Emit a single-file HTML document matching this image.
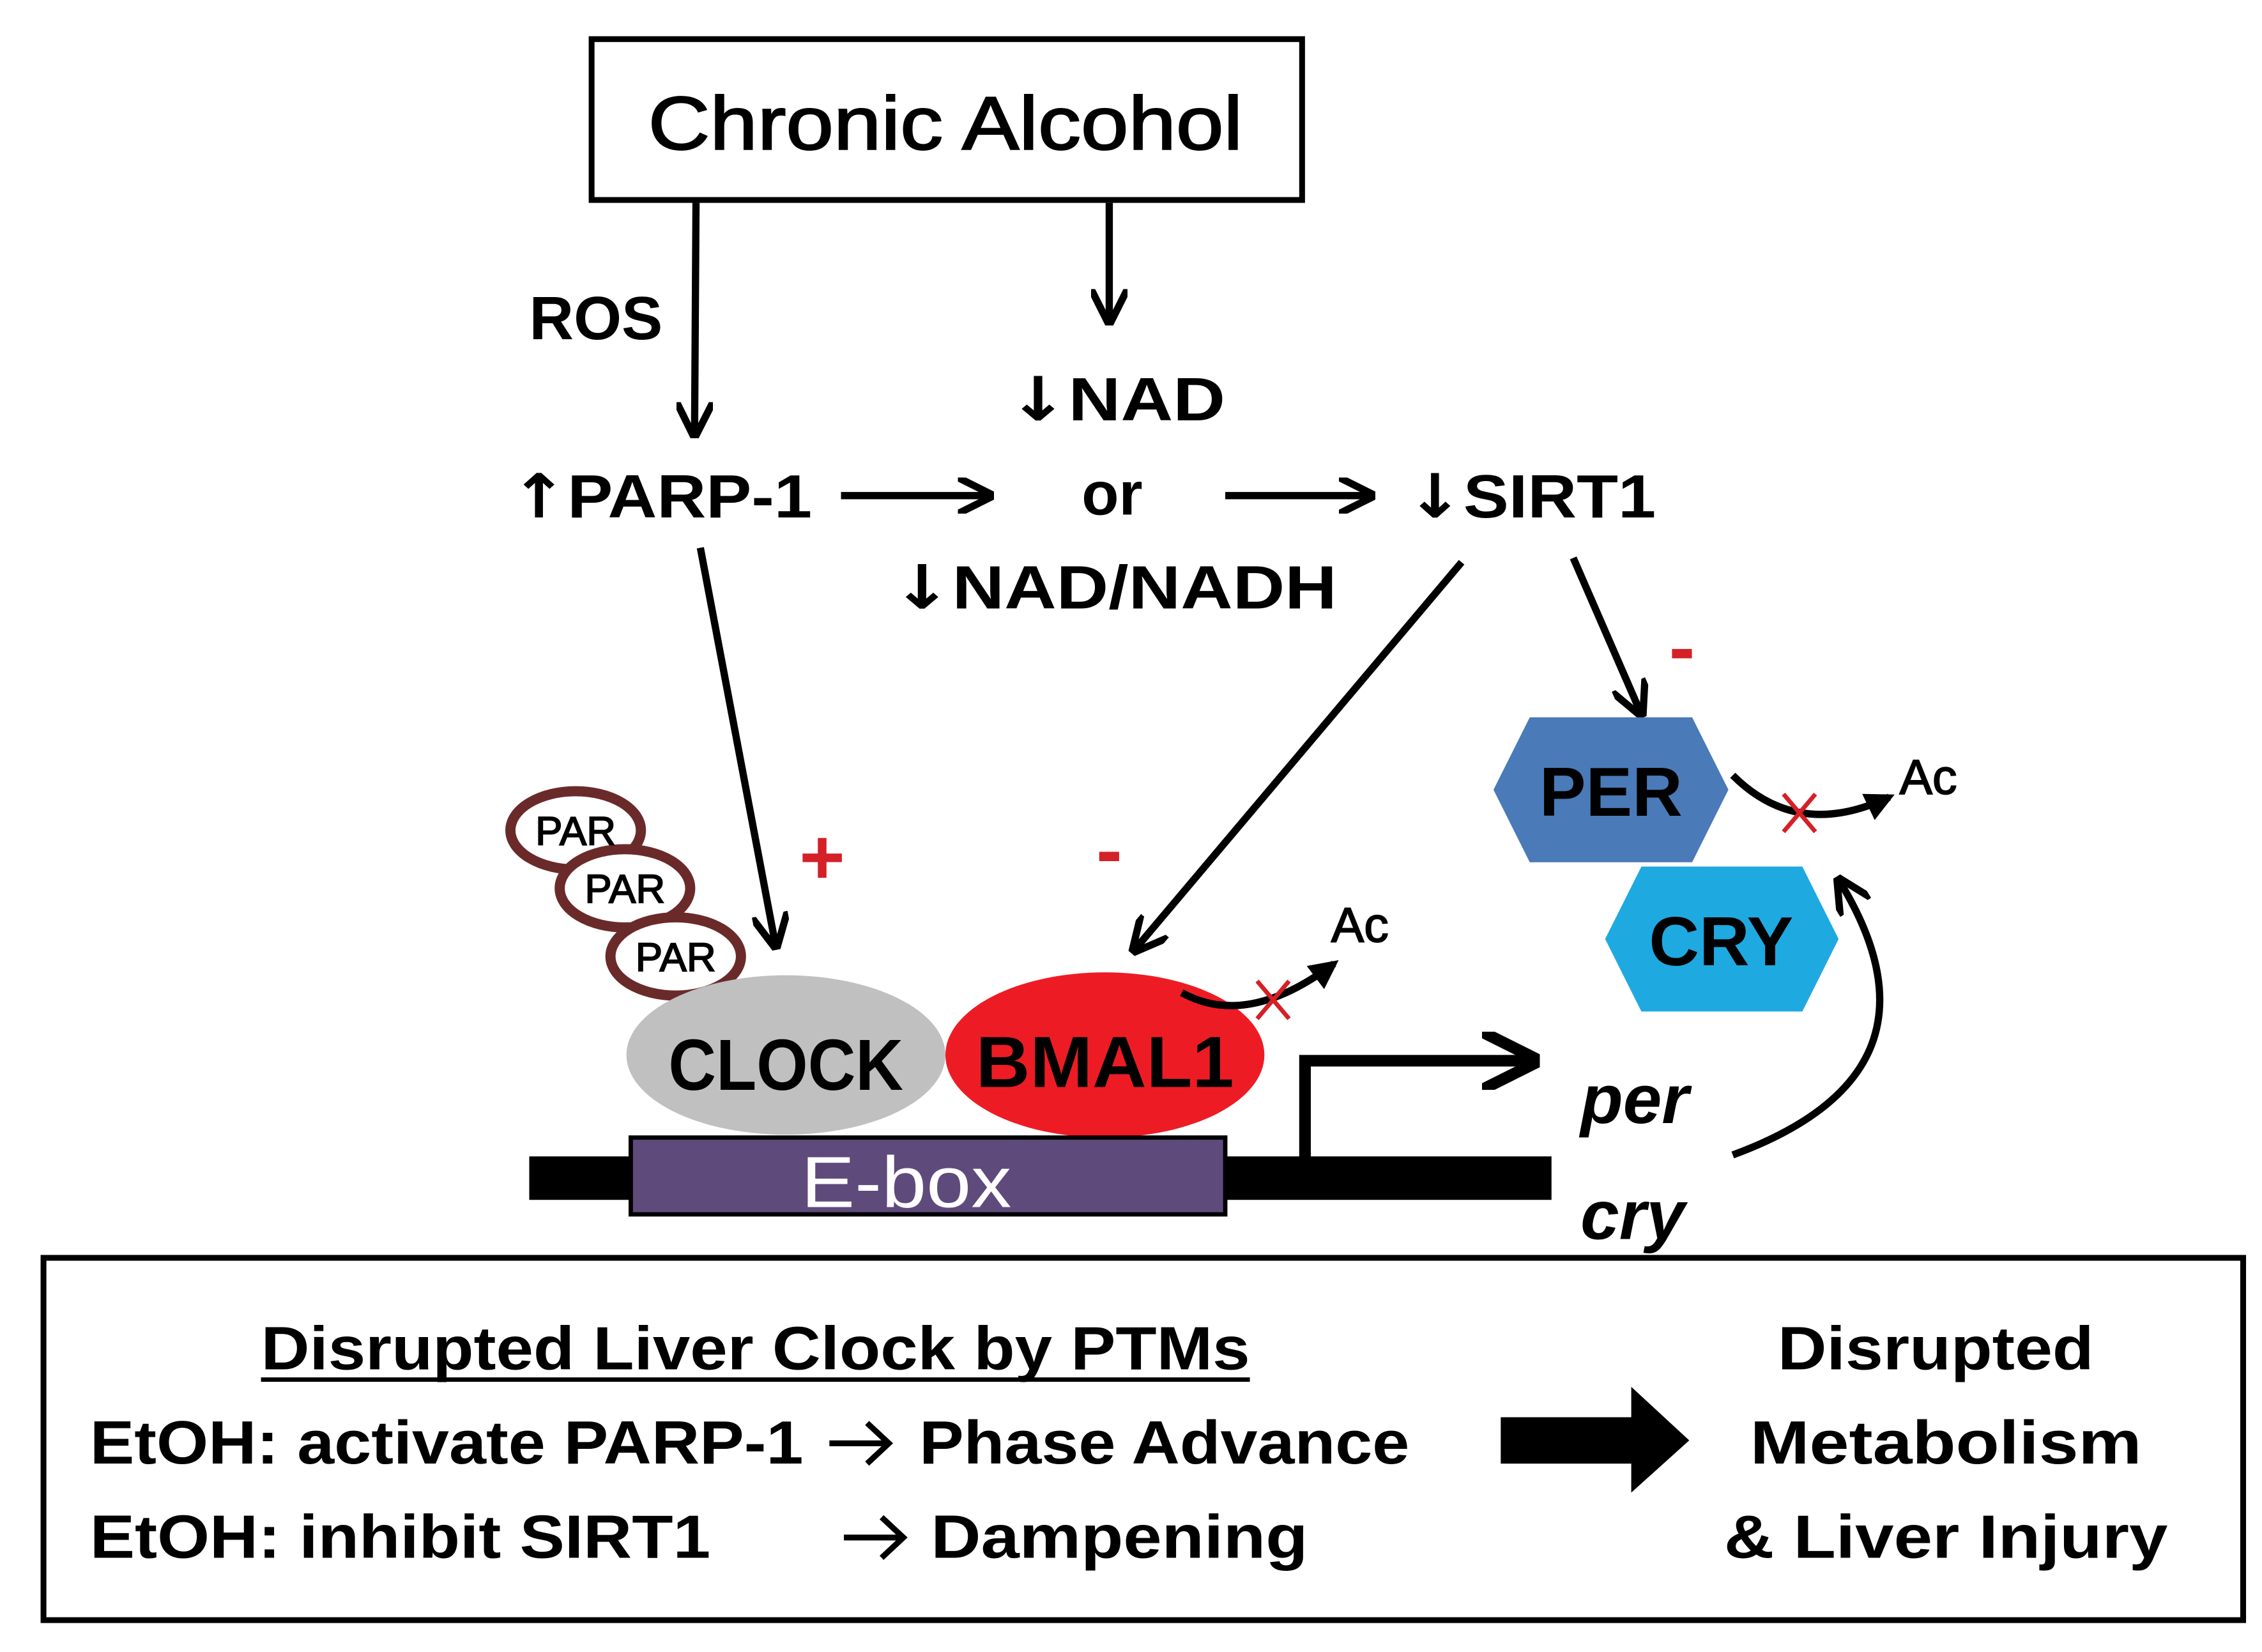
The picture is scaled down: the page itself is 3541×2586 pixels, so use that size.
<!DOCTYPE html>
<html><head><meta charset="utf-8"><style>html,body{margin:0;padding:0;background:#fff}svg{display:block}.g{font-family:"DejaVu Sans",sans-serif;font-weight:bold}</style></head>
<body>
<svg width="3541" height="2586" viewBox="0 0 1560 1140" preserveAspectRatio="none" xmlns="http://www.w3.org/2000/svg" font-family="Liberation Sans, sans-serif" font-weight="bold">
<defs>
<marker id="ah" viewBox="0 0 10 10" refX="9" refY="5" markerWidth="5" markerHeight="5" orient="auto" markerUnits="strokeWidth">
<path d="M0,0 L10,5 L0,10" fill="none" stroke="#000" stroke-width="2"/></marker>
<marker id="ah2" viewBox="0 0 10 10" refX="8" refY="5" markerWidth="4" markerHeight="4" orient="auto" markerUnits="strokeWidth">
<path d="M0,0 L10,5 L0,10 Z" fill="#000"/></marker>
</defs>
<rect x="408" y="27" width="490" height="111" fill="#fff" stroke="#000" stroke-width="4"/>
<text x="652" y="103" font-size="52" text-anchor="middle" font-weight="normal" textLength="410" lengthAdjust="spacingAndGlyphs" stroke="#000" stroke-width="1">Chronic Alcohol</text>
<g stroke="#000" stroke-width="5" fill="none" marker-end="url(#ah)">
<line x1="480" y1="140" x2="479" y2="300"/>
<line x1="765" y1="140" x2="765" y2="222"/>
<line x1="580" y1="342" x2="683" y2="342"/>
<line x1="845" y1="342" x2="946" y2="342"/>
<line x1="483" y1="378" x2="535" y2="653"/>
<line x1="1008" y1="388" x2="782" y2="656"/>
<line x1="1085" y1="385" x2="1132" y2="493"/>
</g>
<g font-size="42">
<text x="365" y="234" textLength="92" lengthAdjust="spacingAndGlyphs">ROS</text>
<text x="695" y="290" textLength="150" lengthAdjust="spacingAndGlyphs"><tspan class="g" font-size="42">↓</tspan><tspan>NAD</tspan></text>
<text x="352" y="357" textLength="208" lengthAdjust="spacingAndGlyphs"><tspan class="g" font-size="42">↑</tspan><tspan>PARP-1</tspan></text>
<text x="767" y="355" text-anchor="middle">or</text>
<text x="970" y="357" textLength="172" lengthAdjust="spacingAndGlyphs"><tspan class="g" font-size="42">↓</tspan><tspan>SIRT1</tspan></text>
<text x="615" y="420" textLength="307" lengthAdjust="spacingAndGlyphs"><tspan class="g" font-size="42">↓</tspan><tspan>NAD/NADH</tspan></text>
</g>
<g fill="#d42027" font-size="54" font-weight="bold">
<text x="1160" y="465" text-anchor="middle">-</text>
<text x="567" y="610" text-anchor="middle">+</text>
<text x="765" y="605" text-anchor="middle">-</text>
</g>
<g stroke="#6b2a2a" stroke-width="7" fill="#fff">
<ellipse cx="397" cy="573" rx="45" ry="27"/>
<ellipse cx="431" cy="613" rx="45" ry="27"/>
<ellipse cx="466" cy="660" rx="45" ry="27"/>
</g>
<g font-size="28" font-weight="normal" text-anchor="middle" stroke="#000" stroke-width="0.8">
<text x="397" y="583">PAR</text><text x="431" y="623">PAR</text><text x="466" y="670">PAR</text>
</g>
<ellipse cx="542" cy="728" rx="110" ry="55" fill="#c0c0c0"/>
<ellipse cx="762" cy="728" rx="110" ry="57" fill="#ed1c24"/>
<text x="542" y="752" font-size="50" text-anchor="middle" textLength="162" lengthAdjust="spacingAndGlyphs">CLOCK</text>
<text x="762" y="750" font-size="50" text-anchor="middle" textLength="178" lengthAdjust="spacingAndGlyphs">BMAL1</text>
<rect x="365" y="798" width="75" height="30" fill="#000"/>
<rect x="835" y="798" width="235" height="30" fill="#000"/>
<rect x="435" y="785" width="410" height="53" fill="#5f4a7c" stroke="#000" stroke-width="3"/>
<text x="625" y="833" font-size="50" fill="#fff" text-anchor="middle" font-weight="normal" textLength="145" lengthAdjust="spacingAndGlyphs">E-box</text>
<path d="M900,800 V732 H1058" stroke="#000" stroke-width="8" fill="none" marker-end="url(#ah)"/>
<text x="1090" y="775" font-size="48" font-style="italic">per</text>
<text x="1090" y="855" font-size="48" font-style="italic">cry</text>
<path d="M1195,797 Q1350,740 1268,607" stroke="#000" stroke-width="5" fill="none" marker-end="url(#ah)"/>
<polygon points="1030,545 1055,495 1167,495 1192,545 1167,595 1055,595" fill="#4a7ab8"/>
<polygon points="1107,648 1132,598 1243,598 1268,648 1243,698 1132,698" fill="#1ea9e1"/>
<text x="1111" y="563" font-size="48" text-anchor="middle">PER</text>
<text x="1187" y="666" font-size="48" text-anchor="middle">CRY</text>
<path d="M1195,535 Q1240,580 1303,550" stroke="#000" stroke-width="5" fill="none" marker-end="url(#ah2)"/>
<path d="M815,685 Q860,710 920,665" stroke="#000" stroke-width="5" fill="none" marker-end="url(#ah2)"/>
<g stroke="#d42027" stroke-width="3">
<line x1="1230" y1="548" x2="1252" y2="574"/><line x1="1252" y1="548" x2="1230" y2="574"/>
<line x1="867" y1="677" x2="889" y2="703"/><line x1="889" y1="677" x2="867" y2="703"/>
</g>
<text x="1310" y="548" font-size="34" font-weight="normal" stroke="#000" stroke-width="0.8">Ac</text>
<text x="918" y="650" font-size="34" font-weight="normal" stroke="#000" stroke-width="0.8">Ac</text>
<rect x="30" y="868" width="1517" height="250" fill="none" stroke="#000" stroke-width="4"/>
<g font-size="42">
<text x="180" y="945" textLength="682" lengthAdjust="spacingAndGlyphs">Disrupted Liver Clock by PTMs</text>
<line x1="180" y1="952" x2="862" y2="952" stroke="#000" stroke-width="3"/>
<text x="62" y="1010" textLength="492" lengthAdjust="spacingAndGlyphs">EtOH: activate PARP-1</text>
<text x="634" y="1010" textLength="338" lengthAdjust="spacingAndGlyphs">Phase Advance</text>
<text x="62" y="1075" textLength="428" lengthAdjust="spacingAndGlyphs">EtOH: inhibit SIRT1</text>
<text x="642" y="1075" textLength="260" lengthAdjust="spacingAndGlyphs">Dampening</text>
<text x="1335" y="945" text-anchor="middle" textLength="218" lengthAdjust="spacingAndGlyphs">Disrupted</text>
<text x="1342" y="1010" text-anchor="middle" textLength="270" lengthAdjust="spacingAndGlyphs">Metabolism</text>
<text x="1342" y="1075" text-anchor="middle" textLength="306" lengthAdjust="spacingAndGlyphs">&amp; Liver Injury</text>
</g>
<g stroke="#000" stroke-width="4" fill="none">
<path d="M572,996 H612 M598,982 L613,996 L598,1010"/>
<path d="M582,1061 H622 M608,1047 L623,1061 L608,1075"/>
</g>
<polygon points="1035,978 1125,978 1125,957 1165,994 1125,1030 1125,1010 1035,1010" fill="#000"/>
</svg>
</body></html>
